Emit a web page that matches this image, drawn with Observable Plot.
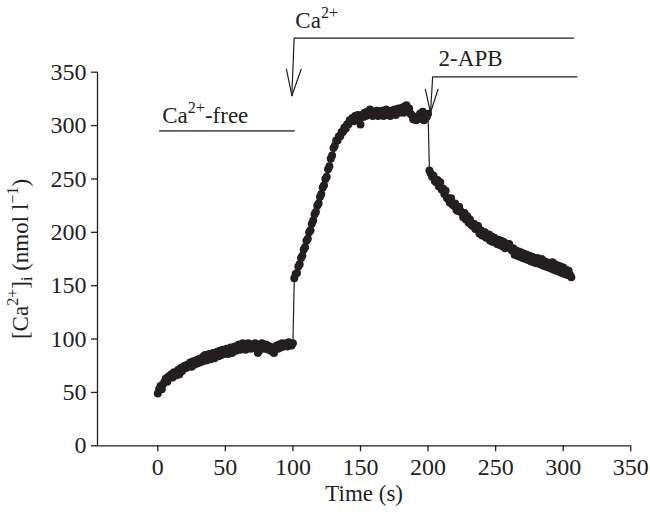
<!DOCTYPE html>
<html>
<head>
<meta charset="utf-8">
<script src="https://cdn.jsdelivr.net/npm/d3@7"></script>
<script src="https://cdn.jsdelivr.net/npm/@observablehq/plot@0.6"></script>
<style>
  html, body { margin: 0; padding: 0; background: #fff; }
  #chart { width: 650px; height: 512px; }
</style>
</head>
<body>
<div id="chart"></div>
<script>
// ---- data: [Ca2+]i (nmol l-1), one reading per second, t = 0 ... 306 s ----
const caFree = [ // t = 0 ... 100 s
  49, 53, 56, 53, 58, 60, 63, 60, 65, 64, 67,
  64, 69, 68, 66, 71, 67, 73, 70, 74, 75,
  73, 76, 75, 78, 74, 79, 76, 80, 77, 81,
  78, 82, 79, 84, 85, 80, 84, 86, 81, 85,
  87, 82, 86, 88, 84, 89, 85, 90, 86, 89,
  91, 86, 90, 92, 87, 91, 93, 89, 93, 95,
  90, 94, 96, 91, 90, 94, 96, 93, 91, 95,
  92, 96, 92, 87, 89, 94, 96, 93, 91, 95,
  94, 90, 93, 89, 88, 87, 92, 94, 91, 95,
  92, 96, 93, 94, 96, 93, 97, 95, 94, 96
];
const caAdded = [ // t = 101 ... 200 s
  157, 161, 162, 168, 170, 176, 178, 184, 186, 192,
  194, 200, 202, 208, 211, 217, 219, 225, 227, 233,
  236, 242, 244, 250, 252, 259, 262, 269, 272, 279,
  281, 286, 286, 290, 290, 294, 294, 298, 297, 301,
  301, 305, 304, 307, 304, 309, 306, 310, 308, 301,
  310, 308, 312, 309, 313, 310, 315, 311, 309, 313,
  310, 314, 309, 313, 310, 314, 309, 312, 315, 310,
  313, 309, 314, 311, 315, 310, 314, 316, 312, 315,
  317, 312, 318, 319, 315, 316, 311, 310, 306, 308,
  305, 308, 306, 311, 307, 313, 305, 310, 308, 311
];
const apbAdded = [ // t = 201 ... 306 s
  258, 255, 252, 253, 248, 247, 249, 243, 247, 240,
  241, 236, 239, 232, 232, 228, 232, 226, 225, 227,
  221, 220, 224, 220, 218, 214, 218, 212, 215, 209,
  212, 207, 206, 208, 203, 203, 206, 199, 202, 197,
  197, 200, 195, 195, 198, 192, 196, 191, 195, 192,
  189, 193, 188, 192, 187, 191, 185, 189, 186, 189,
  185, 183, 185, 179, 183, 178, 182, 177, 181, 176,
  180, 175, 179, 174, 178, 173, 177, 172, 176, 171,
  176, 172, 170, 175, 169, 173, 168, 172, 167, 171,
  166, 172, 165, 170, 164, 169, 163, 168, 162, 167,
  161, 165, 160, 164, 160, 158
];
const phaseStart = [0, 101, 201]; // first sample time (s) of each phase, 1-s sampling

// ---- axes ----
const xTicks = [0, 50, 100, 150, 200, 250, 300, 350];
const yTicks = [0, 50, 100, 150, 200, 250, 300, 350];
const xDomain = [-44.6, 350];
const yDomain = [0, 350];

// ---- annotations (data coordinates) ----
const caFreeLabel = ["Ca^{2+}-free"];
const caFreeLabelX = [3.3];
const caFreeLabelY = [302.5];
const caFreeBarX = [1.3, 100.9];
const caFreeBarY = [295, 295];

const caLabel = ["Ca^{2+}"];
const caLabelX = [101.8];
const caLabelY = [391.4];
const caBracketX = [307.7, 100.9, 99.2];
const caBracketY = [382, 382, 328];
const caHeadX = [95.2, 99.2, 106.1];
const caHeadY = [352.8, 328, 352.8];

const apbLabel = ["2-APB"];
const apbLabelX = [207.8];
const apbLabelY = [355.9];
const apbBracketX = [310.2, 203.4, 201.8];
const apbBracketY = [345.6, 345.6, 312.2];
const apbHeadX = [198, 201.8, 207.4];
const apbHeadY = [334, 312.2, 334];

const xLabel = ["Time (s)"];
const yLabel = ["[Ca^{2+}]_{i} (nmol l^{\u22121})"];

const data = [caFree, caAdded, apbAdded].flatMap((vals, p) =>
  vals.map((v, i) => ({t: phaseStart[p] + i, v}))
);
const pts = (xs, ys) => xs.map((x, i) => [x, ys[i]]);

const ink = "#231f20";
const FS = 23;

const chart = Plot.plot({
  width: 650,
  height: 512,
  marginLeft: 97,
  marginRight: 19.7,
  marginTop: 71.7,
  marginBottom: 66.7,
  x: {domain: xDomain},
  y: {domain: yDomain},
  style: {fontFamily: "'Liberation Serif', 'Times New Roman', serif", fontSize: FS + "px", color: ink, background: "#fff"},
  marks: [
    Plot.axisX({ticks: xTicks, tickSize: 6, tickPadding: 6, label: null, stroke: ink, strokeWidth: 1.3, fontSize: 24}),
    Plot.axisY({ticks: yTicks, tickSize: 6, tickPadding: 5, label: null, stroke: ink, strokeWidth: 1.3, fontSize: 24}),
    Plot.ruleY([0], {stroke: ink, strokeWidth: 1.3}),
    Plot.ruleX([xDomain[0]], {stroke: ink, strokeWidth: 1.3}),
    Plot.line(data, {x: "t", y: "v", stroke: ink, strokeWidth: 1.2}),
    Plot.dot(data, {x: "t", y: "v", r: 4, fill: ink, stroke: null}),
    Plot.line(pts(caFreeBarX, caFreeBarY), {stroke: "#5a5a5a", strokeWidth: 1.6}),
    Plot.text(caFreeLabel, {x: caFreeLabelX, y: caFreeLabelY, textAnchor: "start", lineAnchor: "bottom", fill: ink}),
    Plot.line(pts(caBracketX, caBracketY), {stroke: ink, strokeWidth: 1.2}),
    Plot.line(pts(caHeadX, caHeadY), {stroke: ink, strokeWidth: 1.2}),
    Plot.text(caLabel, {x: caLabelX, y: caLabelY, textAnchor: "start", lineAnchor: "bottom", fill: ink}),
    Plot.line(pts(apbBracketX, apbBracketY), {stroke: ink, strokeWidth: 1.2}),
    Plot.line(pts(apbHeadX, apbHeadY), {stroke: ink, strokeWidth: 1.2}),
    Plot.text(apbLabel, {x: apbLabelX, y: apbLabelY, textAnchor: "start", lineAnchor: "bottom", fill: ink}),
    Plot.text(xLabel, {frameAnchor: "bottom", dy: 55, textAnchor: "middle", lineAnchor: "bottom", fill: ink}),
    Plot.text(yLabel, {frameAnchor: "left", dx: -77, rotate: -90, textAnchor: "middle", lineAnchor: "middle", fill: ink})
  ]
});

// Turn ^{..} / _{..} markup into real superscript / subscript tspans
d3.select(chart).selectAll("text").each(function () {
  const s = this.textContent;
  if (!/[\^_]\{/.test(s)) return;
  const parts = s.split(/(\^\{[^}]*\}|_\{[^}]*\})/).filter(p => p.length);
  this.textContent = "";
  let shift = 0;
  for (const p of parts) {
    const ts = document.createElementNS("http://www.w3.org/2000/svg", "tspan");
    if (p.startsWith("^{")) {
      ts.textContent = p.slice(2, -1);
      ts.setAttribute("font-size", (FS * 0.7) + "px");
      ts.setAttribute("dy", (-0.42 * FS - shift) + "");
      shift = -0.42 * FS;
    } else if (p.startsWith("_{")) {
      ts.textContent = p.slice(2, -1);
      ts.setAttribute("font-size", (FS * 0.7) + "px");
      ts.setAttribute("dy", (0.2 * FS - shift) + "");
      shift = 0.2 * FS;
    } else {
      ts.textContent = p;
      if (shift !== 0) ts.setAttribute("dy", (-shift) + "");
      shift = 0;
    }
    this.appendChild(ts);
  }
});

document.getElementById("chart").appendChild(chart);
</script>
</body>
</html>
